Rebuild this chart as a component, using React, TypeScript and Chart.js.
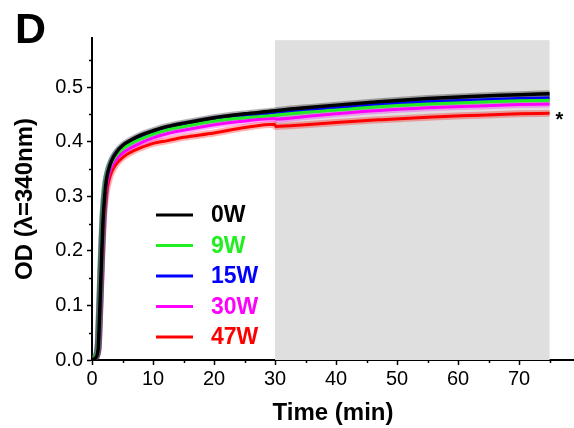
import React, { useEffect, useRef } from "react";
import { Chart, registerables } from "chart.js";

Chart.register(...registerables);

const FONT = 'Arial, "Liberation Sans", sans-serif';

// time (min)
const timeMin = [0, 0.5, 1, 1.2, 1.4, 1.6, 1.8, 2, 2.3, 2.7, 3.2, 3.9, 5, 6.4, 8, 10, 12.4, 15, 20, 25, 29.9, 30.1, 35, 40, 47, 55, 62, 70, 75];

const od0W = [0, 0.003, 0.02, 0.07, 0.134, 0.2, 0.256, 0.29, 0.325, 0.348, 0.365, 0.379, 0.393, 0.403, 0.412, 0.42, 0.428, 0.434, 0.444, 0.451, 0.4565, 0.4568, 0.462, 0.467, 0.473, 0.479, 0.483, 0.486, 0.488];
const od9W = [0, 0.005, 0.03, 0.09, 0.16, 0.22, 0.27, 0.3, 0.328, 0.346, 0.361, 0.374, 0.387, 0.397, 0.405, 0.414, 0.422, 0.428, 0.438, 0.444, 0.4485, 0.4488, 0.454, 0.458, 0.464, 0.469, 0.472, 0.475, 0.476];
const od15W = [0, 0.004, 0.025, 0.08, 0.145, 0.21, 0.262, 0.295, 0.326, 0.347, 0.363, 0.377, 0.39, 0.4, 0.409, 0.417, 0.425, 0.431, 0.441, 0.447, 0.4515, 0.4518, 0.457, 0.462, 0.468, 0.473, 0.476, 0.479, 0.48];
const od30W = [0, 0.004, 0.025, 0.075, 0.14, 0.2, 0.25, 0.285, 0.315, 0.337, 0.353, 0.366, 0.379, 0.389, 0.398, 0.407, 0.415, 0.421, 0.431, 0.438, 0.4425, 0.4415, 0.446, 0.451, 0.457, 0.462, 0.465, 0.468, 0.469];
const od47W = [0, 0.004, 0.02, 0.07, 0.13, 0.19, 0.24, 0.275, 0.305, 0.327, 0.344, 0.358, 0.371, 0.381, 0.389, 0.397, 0.402, 0.408, 0.416, 0.426, 0.432, 0.428, 0.431, 0.435, 0.44, 0.445, 0.448, 0.451, 0.452];

const seriesNames = ["0W", "9W", "15W", "30W", "47W"];
const seriesColors = ["#000000", "#22ee22", "#0000ff", "#ff00ff", "#ff0000"];
const haloColors = ["rgba(0,0,0,0.3)", "rgba(34,238,34,0.3)", "rgba(0,0,255,0.3)", "rgba(255,0,255,0.3)", "rgba(255,0,0,0.3)"];
const seriesData = [od0W, od9W, od15W, od30W, od47W];

const xTicks = [0, 10, 20, 30, 40, 50, 60, 70];
const xMinorTicks = [5, 15, 25, 35, 45, 55, 65, 75];
const yTicks = [0, 0.1, 0.2, 0.3, 0.4, 0.5];
const yMinorTicks = [0.05, 0.15, 0.25, 0.35, 0.45, 0.55];
const shadeRange = [30, 75];
const shadeTop = 0.586;
const panelLabel = "D";
const markText = "*";

export default function App() {
  const ref = useRef<HTMLCanvasElement>(null);

  useEffect(() => {
    if (!ref.current) return;

    const datasets: any[] = [];
    seriesData.forEach((d, i) => {
      datasets.push({
        label: seriesNames[i],
        data: timeMin.map((t, k) => ({ x: t, y: d[k] })),
        borderColor: seriesColors[i],
        borderWidth: i === 0 ? 3.5 : 3,
        pointRadius: 0,
        cubicInterpolationMode: "monotone",
        order: i,
      });
      datasets.push({
        label: seriesNames[i] + "_halo",
        data: timeMin.map((t, k) => ({ x: t, y: d[k] })),
        borderColor: haloColors[i],
        borderWidth: 7,
        pointRadius: 0,
        cubicInterpolationMode: "monotone",
        order: 10 + i,
      });
    });

    const shadePlugin = {
      id: "shade",
      beforeDatasetsDraw(chart: any) {
        const { ctx, scales, chartArea } = chart;
        const x1 = scales.x.getPixelForValue(shadeRange[0]);
        const x2 = scales.x.getPixelForValue(shadeRange[1]);
        const top = scales.y.getPixelForValue(shadeTop);
        ctx.save();
        ctx.fillStyle = "#dfdfdf";
        ctx.fillRect(x1, top, x2 - x1, chartArea.bottom - top);
        ctx.restore();
      },
    };

    const decoPlugin = {
      id: "deco",
      afterDraw(chart: any) {
        const { ctx, scales, chartArea } = chart;
        ctx.save();
        ctx.strokeStyle = "#000";
        ctx.lineWidth = 1.5;
        xMinorTicks.forEach((v) => {
          const px = Math.round(scales.x.getPixelForValue(v)) + 0.5;
          ctx.beginPath();
          ctx.moveTo(px, chartArea.bottom);
          ctx.lineTo(px, chartArea.bottom + 3);
          ctx.stroke();
        });
        yMinorTicks.forEach((v) => {
          const py = Math.round(scales.y.getPixelForValue(v)) + 0.5;
          ctx.beginPath();
          ctx.moveTo(chartArea.left, py);
          ctx.lineTo(chartArea.left - 3, py);
          ctx.stroke();
        });
        ctx.fillStyle = "#000";
        ctx.font = `bold 43px ${FONT}`;
        ctx.textBaseline = "alphabetic";
        ctx.textAlign = "left";
        ctx.fillText(panelLabel, 15, 43);
        ctx.font = `bold 20px ${FONT}`;
        ctx.textBaseline = "top";
        const ax = scales.x.getPixelForValue(timeMin[timeMin.length - 1]) + 6;
        const ay = scales.y.getPixelForValue(od47W[od47W.length - 1]) - 3;
        ctx.fillText(markText, ax, ay);
        ctx.textBaseline = "middle";
        ctx.font = `bold 23px ${FONT}`;
        seriesNames.forEach((n, i) => {
          const y = chartArea.top + 177 + i * 30.5;
          ctx.strokeStyle = seriesColors[i];
          ctx.lineWidth = 3;
          ctx.beginPath();
          ctx.moveTo(chartArea.left + 64, y);
          ctx.lineTo(chartArea.left + 101, y);
          ctx.stroke();
          ctx.fillStyle = seriesColors[i];
          ctx.fillText(n, chartArea.left + 119, y + 1);
        });
        ctx.restore();
      },
    };

    const chart = new Chart(ref.current, {
      type: "line",
      data: { datasets },
      options: {
        animation: false,
        responsive: false,
        layout: { padding: { top: 38, right: 0, left: 0, bottom: 0 } },
        plugins: { legend: { display: false }, tooltip: { enabled: false } },
        scales: {
          x: {
            type: "linear",
            min: 0,
            max: 79,
            afterBuildTicks(scale: any) {
              scale.ticks = xTicks.map((v) => ({ value: v }));
            },
            afterFit(scale: any) {
              scale.height = 68;
            },
            ticks: {
              color: "#000",
              font: { family: FONT, size: 20 },
              padding: 2,
              maxRotation: 0,
              autoSkip: false,
              callback: (v: any) => String(v),
            },
            grid: { drawOnChartArea: false, drawTicks: true, tickLength: 5, color: "#000", tickWidth: 1.5 },
            border: { display: true, color: "#000", width: 2 },
            title: {
              display: true,
              text: "Time (min)",
              color: "#000",
              font: { family: FONT, size: 24, weight: "bold", lineHeight: 1 },
              padding: { top: 0, bottom: 3 },
            },
          },
          y: {
            type: "linear",
            min: 0,
            max: 0.59,
            afterBuildTicks(scale: any) {
              scale.ticks = yTicks.map((v) => ({ value: v }));
            },
            afterFit(scale: any) {
              scale.width = 92;
            },
            ticks: {
              color: "#000",
              font: { family: FONT, size: 20 },
              padding: 4,
              autoSkip: false,
              callback: (v: any) => Number(v).toFixed(1),
            },
            grid: { drawOnChartArea: false, drawTicks: true, tickLength: 5, color: "#000", tickWidth: 1.5 },
            border: { display: true, color: "#000", width: 2 },
            title: {
              display: true,
              text: "OD (λ=340nm)",
              color: "#000",
              font: { family: FONT, size: 24, weight: "bold", lineHeight: 1 },
              padding: { top: 13, bottom: 0 },
            },
          },
        },
      },
      plugins: [shadePlugin, decoPlugin],
    });

    return () => chart.destroy();
  }, []);

  return (
    <div style={{ position: "absolute", left: 0, top: 0, width: 574, height: 428, background: "#fff" }}>
      <canvas ref={ref} width={574} height={428} />
    </div>
  );
}
